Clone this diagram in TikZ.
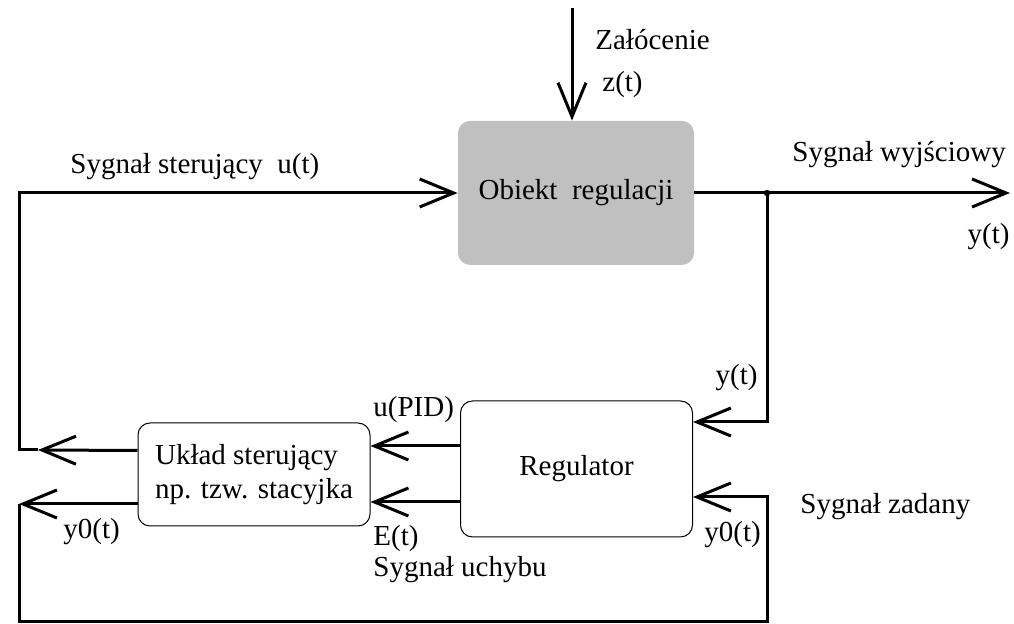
\documentclass[tikz,border=0pt]{standalone}
\usepackage{fontspec}
\setmainfont{Liberation Serif}
\usetikzlibrary{shapes.geometric, arrows.meta}
\definecolor{objgray}{RGB}{192,192,192}
\tikzstyle{plant} = [rectangle, rounded corners=6pt,
minimum width=118pt,
minimum height=72pt,
inner sep=0pt,
text centered,
draw=none,
fill=objgray]
\tikzstyle{block} = [rectangle, rounded corners=6pt,
minimum width=116pt,
inner sep=0pt,
draw=black,
line width=0.5pt,
fill=white]
\tikzstyle{lbl} = [inner sep=0pt]
\tikzstyle{wire} = [line width=1.5pt]
\tikzstyle{arrow} = [line width=1.5pt,-{Straight Barb[length=17pt,width=14pt]}]

\begin{document}
\begin{tikzpicture}[x=0.5pt, y=-0.5pt, font=\fontsize{14.5}{17}\selectfont]
\useasboundingbox (0,0) rectangle (1014,624);

\node (obiekt) [plant] at (576,193) {Obiekt\ \ regulacji};
\node (regulator) [block, minimum height=68pt] at (576.5,469) {Regulator};
\node (uklad) [block, minimum height=51.5pt, align=left] at (254,474.5) {Układ sterujący\\np. tzw. stacyjka};

\coordinate (zin) at (572,8);
\coordinate (yout) at (1010,193);
\coordinate (split) at (767,193);
\coordinate (tipA) at (38,450);
\coordinate (cornerA) at (19,450);
\coordinate (ysetL) at (19,504);
\coordinate (ysetB) at (767,622);
\coordinate (pidout) at ([yshift=11.5pt]regulator.west);
\coordinate (errout) at ([yshift=-16.5pt]regulator.west);

% labels
\node (zal) [lbl, anchor=west] at (595,40) {Załócenie};
\node (zt) [lbl, anchor=west] at (602,85) {z(t)};
\node (ster) [lbl, anchor=west] at (70,167) {Sygnał sterujący\ \ u(t)};
\node (wyj) [lbl, anchor=west] at (792,155) {Sygnał wyjściowy};
\node (yt1) [lbl, anchor=east] at (1010,237) {y(t)};
\node (yt2) [lbl, anchor=east] at (758,378) {y(t)};
\node (pid) [lbl, anchor=west] at (373,410) {u(PID)};
\node (et) [lbl, anchor=west] at (373,539) {E(t)};
\node (uchyb) [lbl, anchor=west] at (373,570) {Sygnał uchybu};
\node (y0l) [lbl, anchor=west] at (63,532) {y0(t)};
\node (y0r) [lbl, anchor=west] at (704,535) {y0(t)};
\node (zad) [lbl, anchor=west] at (800,507) {Sygnał zadany};

\draw [arrow] (zin) -- (zin |- obiekt.north);
\draw [arrow] (obiekt.east) -- (yout);
\fill (split) circle (1.6pt);
\draw [arrow] (split) |- ([yshift=23.5pt]regulator.east);
\draw [arrow] (pidout) -- (pidout -| uklad.east);
\draw [arrow] (errout) -- (errout -| uklad.east);
\draw [arrow] ([yshift=12pt]uklad.west) -- (tipA);
\draw [arrow] (tipA) -- (cornerA) |- (obiekt.west);
\draw [arrow] ([yshift=-14.75pt]uklad.west) -- (ysetL);
\draw [arrow] (ysetL) |- (ysetB) |- ([yshift=-14pt]regulator.east);

\end{tikzpicture}
\end{document}
